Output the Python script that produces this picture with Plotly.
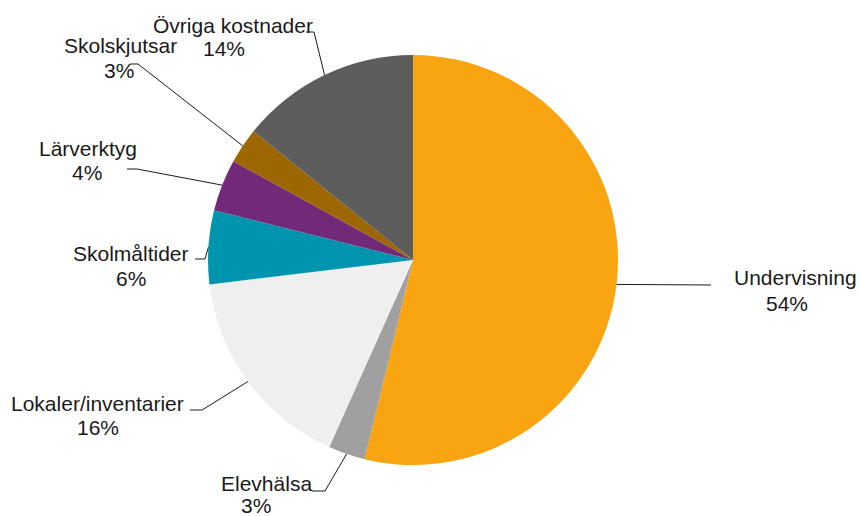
import math
import plotly.graph_objects as go

# ---- data ----
categories = ["Undervisning", "Elevhälsa", "Lokaler/inventarier", "Skolmåltider",
              "Lärverktyg", "Skolskjutsar", "Övriga kostnader"]
values = [53.8, 2.9, 16.4, 5.8, 4.1, 2.8, 14.2]
colors = ["#F9A411", "#A0A0A0", "#EFEFEF", "#0095AF", "#722977", "#9C6600", "#5D5D5D"]

# ---- layout (screen pixels) ----
W, H = 860, 516
CX, CY, R = 413, 260, 205
# label name centre x, name baseline, pct centre x, pct baseline
label_pos = [
    (795, 284, 787, 310),
    (266, 490, 256, 512),
    (97, 410, 98, 434),
    (131, 260, 131, 285),
    (87.5, 155, 87, 179),
    (120, 52, 119, 77),
    (233, 32, 224, 55),
]
# leader line tail (near text) and knee
leader_pts = [
    ((711, 285), (711, 285)),
    ((312, 491), (325, 491)),
    ((190, 410), (202, 410)),
    ((195, 259), (205, 259)),
    ((127, 169), (137, 169)),
    ((130, 64), (138, 64)),
    ((306, 32), (314, 32)),
]
FS = 21

def px(x):
    return x / W

def py(y):
    return 1 - y / H

fig = go.Figure(go.Pie(
    labels=categories, values=values, sort=False, direction="clockwise", rotation=0,
    marker=dict(colors=colors, line=dict(width=0)),
    textinfo="none", hoverinfo="label+percent", showlegend=False,
    domain=dict(x=[px(CX - R), px(CX + R)], y=[py(CY + R), py(CY - R)]),
))

total = sum(values)
cum = 0.0
shapes = []
annotations = []
for i, v in enumerate(values):
    mid = (cum + v / 2) / total * 2 * math.pi
    cum += v
    ax = CX + R * math.sin(mid)
    ay = CY - R * math.cos(mid)
    (tx, ty), (kx, ky) = leader_pts[i]
    path = f"M {px(tx)},{py(ty)} L {px(kx)},{py(ky)} L {px(ax)},{py(ay)}"
    shapes.append(dict(type="path", xref="paper", yref="paper", path=path,
                       line=dict(color="#1a1a1a", width=1)))
    nx, nb, qx, qb = label_pos[i]
    pct = f"{round(v / total * 100)}%"
    annotations.append(dict(x=px(nx), y=py(nb - 0.32 * FS), xref="paper", yref="paper",
                            text=categories[i], showarrow=False, xanchor="center", yanchor="middle",
                            font=dict(size=FS, color="#1a1a1a")))
    annotations.append(dict(x=px(qx), y=py(qb - 0.32 * FS), xref="paper", yref="paper",
                            text=pct, showarrow=False, xanchor="center", yanchor="middle",
                            font=dict(size=FS, color="#1a1a1a")))

fig.update_layout(
    width=W, height=H, margin=dict(l=0, r=0, t=0, b=0),
    paper_bgcolor="white", plot_bgcolor="white",
    font=dict(family="Liberation Sans, Arial, sans-serif"),
    shapes=shapes, annotations=annotations,
)
fig.write_html("out.html", config={"displayModeBar": False},
               post_script="document.body.style.margin='0';document.body.style.overflow='hidden';")
